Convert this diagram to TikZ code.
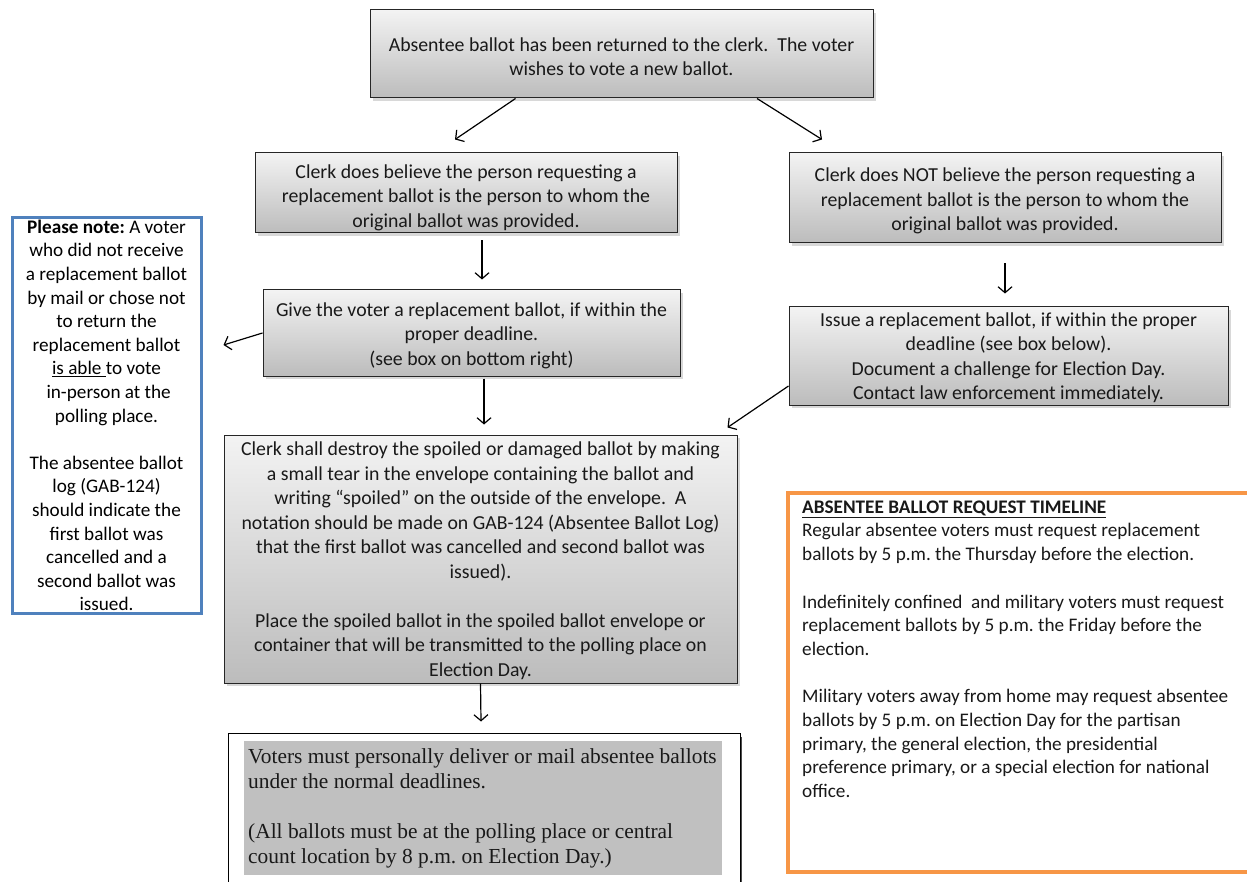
\documentclass[tikz,border=0pt]{standalone}
\usepackage{fontspec}
\setmainfont{Carlito}
\newfontfamily\seriffam{Liberation Serif}
\usetikzlibrary{arrows.meta,shadows}
\definecolor{gtop}{RGB}{243,243,243}
\definecolor{gbot}{RGB}{188,188,188}
\definecolor{noteblue}{RGB}{79,129,189}
\definecolor{tlorange}{RGB}{247,150,70}
\definecolor{innergray}{RGB}{192,192,192}
\newcommand\lowered[2]{\raisebox{-#1}[\height][\depth]{\begin{tabular}{@{}c@{}}#2\end{tabular}}}
\begin{document}
\frenchspacing
\begin{tikzpicture}[x=1pt,y=-1pt,
  gbox/.style={draw=black!85, line width=1pt, top color=gtop, bottom color=gbot,
    drop shadow={shadow xshift=3pt, shadow yshift=-3pt, opacity=0.3},
    inner sep=0pt, align=center, text=black!90,
    font=\fontsize{19.8}{24.5}\selectfont},
  arr/.style={draw=black, line width=1.2pt, -{Straight Barb[length=6pt,width=14pt]}},
  txt/.style={inner sep=0pt, text=black!90}
]
\useasboundingbox (0,0) rectangle (1247,882);
\fill[white] (0,0) rectangle (1247,882);

\node[gbox, minimum width=503pt, minimum height=88pt] (top) at (621.5,54)
  {\lowered{4.5pt}{Absentee ballot has been returned to the clerk.\ \ The voter\\wishes to vote a new ballot.}};

\node[gbox, minimum width=422pt, minimum height=80pt] (believe) at (466,193)
  {\lowered{5pt}{Clerk does believe the person requesting a\\replacement ballot is the person to whom the\\original ballot was provided.}};

\node[gbox, minimum width=432pt, minimum height=90pt] (notb) at (1005,198)
  {\lowered{3.5pt}{Clerk does NOT believe the person requesting a\\replacement ballot is the person to whom the\\original ballot was provided.}};

\node[gbox, minimum width=417pt, minimum height=86pt] (give) at (471.5,333)
  {\lowered{3pt}{Give the voter a replacement ballot, if within the\\proper deadline.\\(see box on bottom right)}};

\node[gbox, minimum width=439pt, minimum height=94pt] (issue) at (1008.5,356)
  {\lowered{2pt}{Issue a replacement ballot, if within the proper\\deadline (see box below).\\Document a challenge for Election Day.\\Contact law enforcement immediately.}};

\node[gbox, minimum width=513pt, minimum height=248pt] (destroy) at (480.5,559)
  {\lowered{2pt}{Clerk shall destroy the spoiled or damaged ballot by making\\a small tear in the envelope containing the ballot and\\writing “spoiled” on the outside of the envelope.\ \ A\\notation should be made on GAB-124 (Absentee Ballot Log)\\that the first ballot was cancelled and second ballot was\\issued).\\ \\Place the spoiled ballot in the spoiled ballot envelope or\\container that will be transmitted to the polling place on\\Election Day.}};

\node[draw=noteblue, line width=3pt, minimum width=189pt, minimum height=395pt, inner sep=0pt,
  align=center, text=black, font=\fontsize{19.2}{23.6}\selectfont] (note) at (106.5,415.5)
  {\textbf{Please note:} A voter\\who did not receive\\a replacement ballot\\by mail or chose not\\to return the\\replacement ballot\\\underline{is able }to vote\\\ in-person at the\\polling place.\\[23.6pt]The absentee ballot\\log (GAB-124)\\should indicate the\\first ballot was\\cancelled and a\\second ballot was\\issued.};

% bottom box
\draw[black!70, line width=1pt] (741,737) -- (741,890);
\node[draw=black, line width=1pt, fill=white, minimum width=512pt, minimum height=157pt, inner sep=0pt] (bottom) at (484,811.5) {};
\node[fill=innergray, minimum width=478pt, minimum height=134pt, inner sep=0pt] (inner) at (483,808) {};
\node[txt, anchor=north west, align=left, font=\seriffam\fontsize{21.4}{25}\selectfont] (btext) at (248,748)
  {Voters must personally deliver or mail absentee ballots\\under the normal deadlines.\\[25pt](All ballots must be at the polling place or central\\count location by 8 p.m. on Election Day.)};

% orange timeline box
\node[draw=tlorange, line width=4pt, minimum width=464pt, minimum height=379pt, inner sep=0pt] (tl) at (1020,682.5) {};
\node[txt, anchor=north west, align=left, font=\fontsize{19.2}{23.7}\selectfont] (tltext) at (802,500.5)
  {\underline{\textbf{ABSENTEE BALLOT REQUEST TIMELINE}}\\Regular absentee voters must request replacement\\ballots by 5 p.m. the Thursday before the election.\\[23.7pt]Indefinitely confined\ \ and military voters must request\\replacement ballots by 5 p.m. the Friday before the\\election.\\[23.7pt]Military voters away from home may request absentee\\ballots by 5 p.m. on Election Day for the partisan\\primary, the general election, the presidential\\preference primary, or a special election for national\\office.};

% connectors
\draw[arr] ([xshift=-106pt]top.south) -- ([xshift=-11pt,yshift=13pt]believe.north);
\draw[arr] ([xshift=135.5pt]top.south) -- ([xshift=-183pt,yshift=13pt]notb.north);
\draw[arr] ([xshift=16pt,yshift=-7pt]believe.south) -- ([xshift=10.5pt,yshift=10pt]give.north);
\draw[arr] ([yshift=-20pt]notb.south) -- ([xshift=-3.5pt,yshift=13pt]issue.north);
\draw[arr] (give.west) -- ([xshift=21pt,yshift=70.5pt]note.east);
\draw[arr] ([xshift=12.5pt,yshift=-2pt]give.south) -- ([xshift=3.5pt,yshift=10pt]destroy.north);
\draw[arr] ([yshift=-30pt]issue.west) -- ([xshift=-10pt,yshift=7pt]destroy.north east);
\draw[arr] (destroy.south) -- ([xshift=-3pt,yshift=11pt]bottom.north);
\end{tikzpicture}
\end{document}
